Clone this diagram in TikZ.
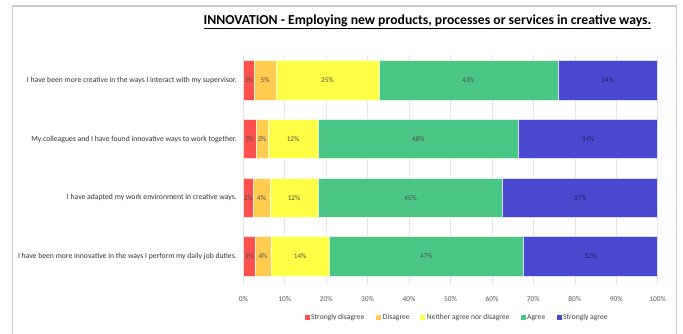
\documentclass[tikz,border=0pt]{standalone}
\usepackage{fontspec}
\setmainfont{Carlito}
\usepackage{tikz}
\definecolor{sdis}{RGB}{255,80,80}
\definecolor{dis}{RGB}{255,204,80}
\definecolor{neut}{RGB}{255,255,70}
\definecolor{agr}{RGB}{75,199,133}
\definecolor{sagr}{RGB}{72,72,208}
\tikzset{pct/.style={font=\fontsize{7.2}{8}\selectfont, text=black!70, inner sep=0pt},
  cat/.style={font=\fontsize{7.7}{9}\selectfont, text=black!80, anchor=east, inner sep=0pt},
  tick/.style={font=\fontsize{7.4}{8}\selectfont, text=black!65, inner sep=0pt},
  leg/.style={font=\fontsize{7.6}{8}\selectfont, text=black!75, anchor=west, inner sep=0pt}}
\def\barseg#1(#2:#3:#4)#5#6{\fill[#5, draw=white!80!#5, line width=0.5pt] (#3,#2) rectangle (#4,#2+39.3);
  \node[pct] (#1) at ({(#3+#4)/2},#2+19.65) {#6};}

\begin{document}
\begin{tikzpicture}[x=1pt, y=-1pt]
		%%%%% START %%%%%
		\useasboundingbox[fill=white] (0,0) rectangle (683,333);
		
		\draw[gray!40, line width=1.5pt] (12.7,345) -- (12.7,6) -- (676.7,6) -- (676.7,345);
		
		\node[font=\bfseries\fontsize{13.7}{15}\selectfont, inner sep=0pt] (title) at (427.5,22) {\underline{INNOVATION - Employing new products, processes or services in creative ways.}};
		
		\begin{scope}[x=4.144pt, xshift=243.3pt]
		\foreach \g in {0,10,...,100} {\draw[black!10, line width=0.5pt] (\g,55) -- (\g,285);}
		\foreach \g in {0,10,...,100} {\node[tick] (t\g) at (\g,298.7) {\g\%};}
		
		\barseg{a1}(60.7:0:2.6){sdis}{3\%}
		\barseg{a2}(60.7:2.6:7.9){dis}{5\%}
		\barseg{a3}(60.7:7.9:32.7){neut}{25\%}
		\barseg{a4}(60.7:32.7:75.9){agr}{43\%}
		\barseg{a5}(60.7:75.9:100){sagr}{\textcolor{sagr!45!black}{24\%}}
		
		\barseg{b1}(119.3:0:3.1){sdis}{3\%}
		\barseg{b2}(119.3:3.1:5.9){dis}{3\%}
		\barseg{b3}(119.3:5.9:18.1){neut}{12\%}
		\barseg{b4}(119.3:18.1:66.4){agr}{48\%}
		\barseg{b5}(119.3:66.4:100){sagr}{\textcolor{sagr!45!black}{34\%}}
		
		\barseg{c1}(178:0:2.4){sdis}{2\%}
		\barseg{c2}(178:2.4:6.4){dis}{4\%}
		\barseg{c3}(178:6.4:18.1){neut}{12\%}
		\barseg{c4}(178:18.1:62.6){agr}{45\%}
		\barseg{c5}(178:62.6:100){sagr}{\textcolor{sagr!45!black}{37\%}}
		
		\barseg{d1}(236.7:0:2.8){sdis}{3\%}
		\barseg{d2}(236.7:2.8:6.7){dis}{4\%}
		\barseg{d3}(236.7:6.7:20.7){neut}{14\%}
		\barseg{d4}(236.7:20.7:67.6){agr}{47\%}
		\barseg{d5}(236.7:67.6:100){sagr}{\textcolor{sagr!45!black}{32\%}}
		\end{scope}
		
		\node[cat] (q1) at (237,80.3) {I have been more creative in the ways I interact with my supervisor.};
		\node[cat] (q2) at (237,139) {My colleagues and I have found innovative ways to work together.};
		\node[cat] (q3) at (237,197.7) {I have adapted my work environment in creative ways.};
		\node[cat] (q4) at (237,256.3) {I have been more innovative in the ways I perform my daily job duties.};
		
		\fill[sdis] (304.5,315.2) rectangle (309.5,320.2);
		\node[leg] (l1) at (311,317.7) {Strongly disagree};
		\fill[dis] (376.2,315.2) rectangle (381.2,320.2);
		\node[leg] (l2) at (382.7,317.7) {Disagree};
		\fill[neut] (420.2,315.2) rectangle (425.2,320.2);
		\node[leg] (l3) at (426.7,317.7) {Neither agree nor disagree};
		\fill[agr] (520.5,315.2) rectangle (525.5,320.2);
		\node[leg] (l4) at (527,317.7) {Agree};
		\fill[sagr] (556.5,315.2) rectangle (561.5,320.2);
		\node[leg] (l5) at (563,317.7) {Strongly agree};
		
		%%%%% END %%%%%
	\end{tikzpicture}
\end{document}
